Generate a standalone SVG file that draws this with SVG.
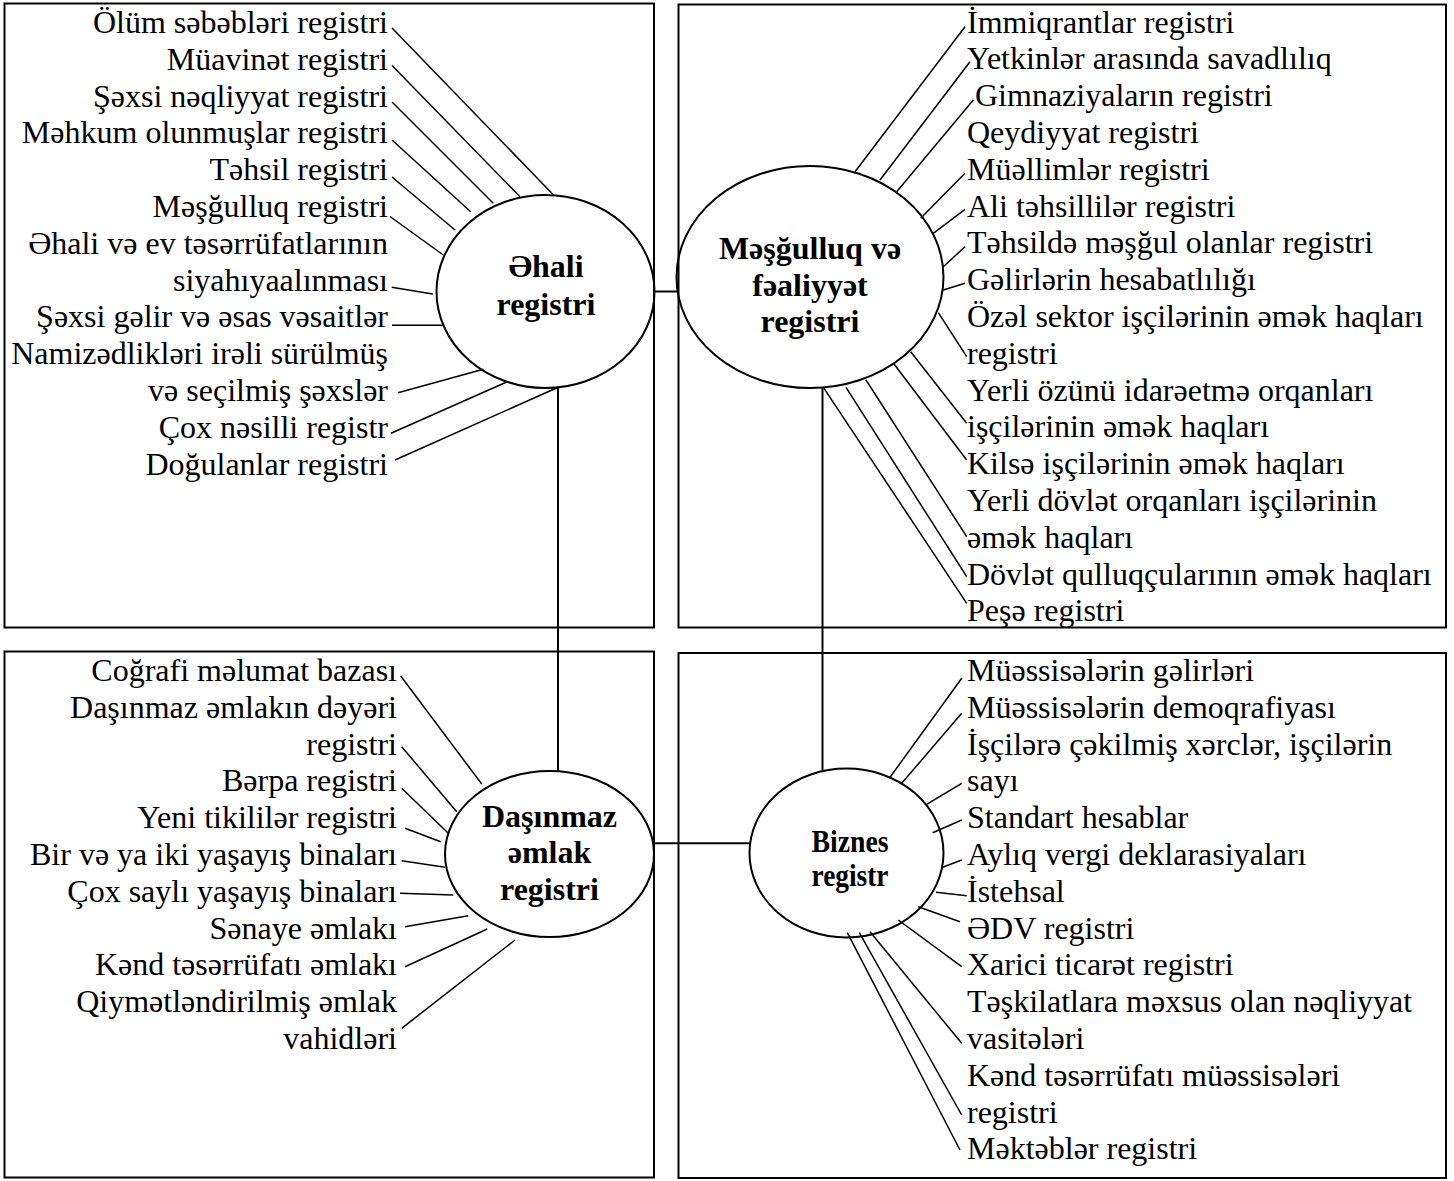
<svg xmlns="http://www.w3.org/2000/svg" width="1454" height="1181" viewBox="0 0 1454 1181">
<style>
.box{fill:none;stroke:#000;stroke-width:2}
.hub{fill:none;stroke:#000;stroke-width:2}
.lbl{font-family:"Liberation Serif","Times New Roman",serif;font-size:32px;font-weight:bold;text-anchor:middle;fill:#000}
.item{font-family:"Liberation Serif","Times New Roman",serif;font-size:32px;fill:#000}
.r{text-anchor:end}
.l{text-anchor:start}
.ln{stroke:#000;stroke-width:1.5;fill:none}
.link{stroke:#000;stroke-width:2;fill:none}
</style>
<rect width="1454" height="1181" fill="#fff"/>
<g id="panels">
<rect class="box" x="4.5" y="3.5" width="649.5" height="624"/>
<rect class="box" x="678.5" y="4.5" width="767.5" height="623"/>
<rect class="box" x="4.5" y="651.5" width="649.5" height="526"/>
<rect class="box" x="678.5" y="653" width="767.5" height="525"/>
</g>
<g id="connectors">
<line class="link" x1="654" y1="291.5" x2="679" y2="291.5"/>
<line class="link" x1="558" y1="388" x2="558" y2="772"/>
<line class="link" x1="822.5" y1="388" x2="822.5" y2="771"/>
<line class="link" x1="654" y1="843.3" x2="750" y2="843.3"/>
<line class="ln" x1="392" y1="28" x2="553.5" y2="195"/>
<line class="ln" x1="392" y1="65.5" x2="520" y2="196.7"/>
<line class="ln" x1="392" y1="102" x2="493.3" y2="203.3"/>
<line class="ln" x1="392" y1="140" x2="470.7" y2="211.7"/>
<line class="ln" x1="392" y1="177" x2="455" y2="230"/>
<line class="ln" x1="390" y1="216.5" x2="443.3" y2="255"/>
<line class="ln" x1="391.7" y1="287.3" x2="432.7" y2="294"/>
<line class="ln" x1="392" y1="325.3" x2="443.3" y2="325.3"/>
<line class="ln" x1="398" y1="392.7" x2="483.3" y2="369.3"/>
<line class="ln" x1="391" y1="433.3" x2="506.7" y2="382"/>
<line class="ln" x1="395" y1="460" x2="556.5" y2="388"/>
<line class="ln" x1="965" y1="26.7" x2="855" y2="171.7"/>
<line class="ln" x1="970" y1="61.7" x2="880" y2="180"/>
<line class="ln" x1="973.3" y1="100" x2="896.7" y2="191.7"/>
<line class="ln" x1="965" y1="173.3" x2="920.7" y2="218.3"/>
<line class="ln" x1="965" y1="209.3" x2="933.3" y2="233.3"/>
<line class="ln" x1="965" y1="246.7" x2="943.3" y2="266.7"/>
<line class="ln" x1="965" y1="283.3" x2="943.3" y2="290"/>
<line class="ln" x1="938.3" y1="312.7" x2="966.7" y2="356.7"/>
<line class="ln" x1="910.7" y1="351.7" x2="966.7" y2="423.3"/>
<line class="ln" x1="894" y1="364" x2="966.7" y2="460"/>
<line class="ln" x1="866" y1="380" x2="966.7" y2="536.7"/>
<line class="ln" x1="846" y1="387.3" x2="966.7" y2="576.7"/>
<line class="ln" x1="824" y1="388.3" x2="966.7" y2="603.3"/>
<line class="ln" x1="400.7" y1="676" x2="481.7" y2="784"/>
<line class="ln" x1="401.7" y1="746.7" x2="456.7" y2="811.7"/>
<line class="ln" x1="401.7" y1="788.3" x2="448.3" y2="833.3"/>
<line class="ln" x1="405" y1="828.3" x2="440.7" y2="841.7"/>
<line class="ln" x1="401.7" y1="860.7" x2="445" y2="867.3"/>
<line class="ln" x1="400" y1="893.3" x2="453.3" y2="895"/>
<line class="ln" x1="405" y1="926.7" x2="468.3" y2="915.7"/>
<line class="ln" x1="405" y1="966.7" x2="487.3" y2="929"/>
<line class="ln" x1="401.7" y1="1028.3" x2="515" y2="940"/>
<line class="ln" x1="961.7" y1="678.3" x2="889.3" y2="778.3"/>
<line class="ln" x1="961.7" y1="713.3" x2="901.7" y2="783.3"/>
<line class="ln" x1="961.7" y1="783.3" x2="926.7" y2="804.3"/>
<line class="ln" x1="961.7" y1="820" x2="932.7" y2="832.7"/>
<line class="ln" x1="961.7" y1="860" x2="942.7" y2="867.3"/>
<line class="ln" x1="936" y1="892.3" x2="966.7" y2="895.7"/>
<line class="ln" x1="918.3" y1="906.7" x2="960" y2="921.7"/>
<line class="ln" x1="898.3" y1="920" x2="961.7" y2="966.7"/>
<line class="ln" x1="870" y1="931.7" x2="961.7" y2="1043.3"/>
<line class="ln" x1="859.3" y1="932.7" x2="961.7" y2="1115"/>
<line class="ln" x1="847.3" y1="932.7" x2="960" y2="1150"/>
</g>
<g id="node-ehali">
<ellipse class="hub" cx="545.5" cy="291.5" rx="109" ry="96.5"/>
<text class="lbl" x="546" y="277">Əhali</text>
<text class="lbl" x="546" y="315">registri</text>
</g>
<g id="node-mesgulluq">
<ellipse class="hub" cx="810" cy="277" rx="133.5" ry="111"/>
<text class="lbl" x="810" y="259">Məşğulluq və</text>
<text class="lbl" x="810" y="295.5">fəaliyyət</text>
<text class="lbl" x="810" y="332">registri</text>
</g>
<g id="node-dasinmaz">
<ellipse class="hub" cx="549.5" cy="854" rx="104.5" ry="83"/>
<text class="lbl" x="549.5" y="826.5">Daşınmaz</text>
<text class="lbl" x="549.5" y="863">əmlak</text>
<text class="lbl" x="549.5" y="899.5">registri</text>
</g>
<g id="node-biznes">
<ellipse class="hub" cx="846.5" cy="853" rx="97" ry="84.5"/>
<text class="lbl" x="850" y="852" style="font-size:31px" textLength="77" lengthAdjust="spacingAndGlyphs">Biznes</text>
<text class="lbl" x="850" y="886" style="font-size:31px" textLength="77" lengthAdjust="spacingAndGlyphs">registr</text>
</g>
<g id="items-ehali" class="item r">
<text x="388" y="33">Ölüm səbəbləri registri</text>
<text x="388" y="69.8">Müavinət registri</text>
<text x="388" y="106.6">Şəxsi nəqliyyat registri</text>
<text x="388" y="143.4">Məhkum olunmuşlar registri</text>
<text x="388" y="180.2">Təhsil registri</text>
<text x="388" y="217">Məşğulluq registri</text>
<text x="388" y="253.8">Əhali və ev təsərrüfatlarının</text>
<text x="388" y="290.6">siyahıyaalınması</text>
<text x="388" y="327.4">Şəxsi gəlir və əsas vəsaitlər</text>
<text x="388" y="364.2">Namizədlikləri irəli sürülmüş</text>
<text x="388" y="401">və seçilmiş şəxslər</text>
<text x="388" y="437.8">Çox nəsilli registr</text>
<text x="388" y="474.6">Doğulanlar registri</text>
</g>
<g id="items-mesgulluq" class="item l">
<text x="967" y="32.5">İmmiqrantlar registri</text>
<text x="967" y="69.3">Yetkinlər arasında savadlılıq</text>
<text x="975" y="106.1">Gimnaziyaların registri</text>
<text x="967" y="142.9">Qeydiyyat registri</text>
<text x="967" y="179.7">Müəllimlər registri</text>
<text x="967" y="216.5">Ali təhsillilər registri</text>
<text x="967" y="253.3">Təhsildə məşğul olanlar registri</text>
<text x="967" y="290.1">Gəlirlərin hesabatlılığı</text>
<text x="967" y="326.9">Özəl sektor işçilərinin əmək haqları</text>
<text x="967" y="363.7">registri</text>
<text x="967" y="400.5">Yerli özünü idarəetmə orqanları</text>
<text x="967" y="437.3">işçilərinin əmək haqları</text>
<text x="967" y="474.1">Kilsə işçilərinin əmək haqları</text>
<text x="967" y="510.9">Yerli dövlət orqanları işçilərinin</text>
<text x="967" y="547.7">əmək haqları</text>
<text x="967" y="584.5">Dövlət qulluqçularının əmək haqları</text>
<text x="967" y="621.3">Peşə registri</text>
</g>
<g id="items-dasinmaz" class="item r">
<text x="397" y="681">Coğrafi məlumat bazası</text>
<text x="397" y="717.8">Daşınmaz əmlakın dəyəri</text>
<text x="397" y="754.6">registri</text>
<text x="397" y="791.4">Bərpa registri</text>
<text x="397" y="828.2">Yeni tikililər registri</text>
<text x="397" y="865">Bir və ya iki yaşayış binaları</text>
<text x="397" y="901.8">Çox saylı yaşayış binaları</text>
<text x="397" y="938.6">Sənaye əmlakı</text>
<text x="397" y="975.4">Kənd təsərrüfatı əmlakı</text>
<text x="397" y="1012.2">Qiymətləndirilmiş əmlak</text>
<text x="397" y="1049">vahidləri</text>
</g>
<g id="items-biznes" class="item l">
<text x="967" y="681">Müəssisələrin gəlirləri</text>
<text x="967" y="717.8">Müəssisələrin demoqrafiyası</text>
<text x="967" y="754.6">İşçilərə çəkilmiş xərclər, işçilərin</text>
<text x="967" y="791.4">sayı</text>
<text x="967" y="828.2">Standart hesablar</text>
<text x="967" y="865">Aylıq vergi deklarasiyaları</text>
<text x="967" y="901.8">İstehsal</text>
<text x="967" y="938.6">ƏDV registri</text>
<text x="967" y="975.4">Xarici ticarət registri</text>
<text x="967" y="1012.2">Təşkilatlara məxsus olan nəqliyyat</text>
<text x="967" y="1049">vasitələri</text>
<text x="967" y="1085.8">Kənd təsərrüfatı müəssisələri</text>
<text x="967" y="1122.6">registri</text>
<text x="967" y="1159.4">Məktəblər registri</text>
</g>
</svg>
